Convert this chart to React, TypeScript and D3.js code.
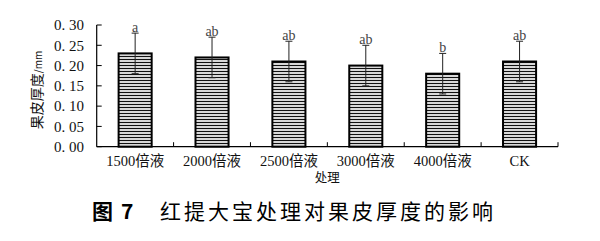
import React from "react";
import * as d3 from "d3";

const categories = ["1500倍液", "2000倍液", "2500倍液", "3000倍液", "4000倍液", "CK"];
const means = [0.23, 0.22, 0.21, 0.2, 0.18, 0.21];
const errors = [0.05, 0.05, 0.05, 0.05, 0.05, 0.05];
const letters = ["a", "ab", "ab", "ab", "b", "ab"];
const yTicks = [0, 0.05, 0.1, 0.15, 0.2, 0.25, 0.3];
const yLabel = "果皮厚度";
const yUnit = "/mm";
const xLabel = "处理";
const figWord = "图";
const figNum = "7";
const title = "红提大宝处理对果皮厚度的影响";

const serif = "'Liberation Serif', 'Noto Sans CJK SC', serif";
const cjk = "'Noto Sans CJK SC', sans-serif";

export default function App() {
  const left = 96.7;
  const right = 558;
  const bottom = 146.7;
  const top = 25;
  const x = d3
    .scaleBand<string>()
    .domain(categories)
    .range([left, right])
    .paddingInner(0.57)
    .paddingOuter(0.285);
  const y = d3.scaleLinear().domain([0, 0.3]).range([bottom, top]);
  const step = x.step();
  const fmt = (v: number) => {
    const s = d3.format(".2f")(v);
    return s.replace(".", ". ");
  };
  return (
    <svg
      width={600}
      height={241}
      style={{ position: "absolute", left: 0, top: 0, background: "#fff" }}
    >
      <defs>
        <pattern id="stripes" width={4} height={3} patternUnits="userSpaceOnUse">
          <rect width={4} height={3} fill="#d8d8d8" />
          <rect y={2} width={4} height={1.1} fill="#111" />
        </pattern>
      </defs>
      <rect width={600} height={241} fill="#fff" />
      {/* bars */}
      {categories.map((c, i) => (
        <rect
          key={c}
          x={x(c)!}
          y={y(means[i])}
          width={x.bandwidth()}
          height={bottom - y(means[i])}
          fill="url(#stripes)"
          stroke="#000"
          strokeWidth={2}
        />
      ))}
      {/* error bars */}
      {categories.map((c, i) => {
        const cx = x(c)! + x.bandwidth() / 2;
        const yt = y(means[i] + errors[i]);
        const yb = y(means[i] - errors[i]);
        return (
          <g key={"e" + c} stroke="#222" strokeWidth={1}>
            <line x1={cx} x2={cx} y1={yt} y2={yb} />
            <line x1={cx - 3.5} x2={cx + 3.5} y1={yt} y2={yt} />
            <line x1={cx - 3.5} x2={cx + 3.5} y1={yb} y2={yb} />
          </g>
        );
      })}
      {/* letters */}
      {categories.map((c, i) => (
        <text
          key={"l" + c}
          x={x(c)! + x.bandwidth() / 2}
          y={y(means[i] + errors[i]) - 1.5}
          textAnchor="middle"
          fontFamily={serif}
          fontSize={14}
          fill="#444"
        >
          {letters[i]}
        </text>
      ))}
      {/* y axis */}
      <line x1={left} x2={left} y1={top} y2={bottom} stroke="#000" strokeWidth={1.2} />
      {yTicks.map((t) => (
        <g key={t}>
          <line x1={left} x2={left + 5} y1={y(t)} y2={y(t)} stroke="#000" strokeWidth={1} />
          <text
            x={84}
            y={y(t)}
            dy="0.35em"
            textAnchor="end"
            fontFamily={serif}
            fontSize={15}
            fill="#111"
          >
            {fmt(t)}
          </text>
        </g>
      ))}
      {/* x axis */}
      <line x1={left} x2={right} y1={bottom} y2={bottom} stroke="#000" strokeWidth={1.2} />
      {categories.map((c, i) => (
        <line
          key={"t" + c}
          x1={left + step * (i + 1)}
          x2={left + step * (i + 1)}
          y1={bottom}
          y2={bottom - 4.5}
          stroke="#000"
          strokeWidth={1}
        />
      ))}
      {categories.map((c) => (
        <text
          key={"c" + c}
          x={x(c)! + x.bandwidth() / 2}
          y={166}
          textAnchor="middle"
          fontFamily={serif}
          fontSize={14.5}
          fill="#111"
        >
          {c}
        </text>
      ))}
      <text
        x={(left + right) / 2}
        y={182}
        textAnchor="middle"
        fontFamily={cjk}
        fontSize={12.5}
        fill="#111"
      >
        {xLabel}
      </text>
      {/* y label */}
      <text
        transform={`translate(42, 90) rotate(-90)`}
        textAnchor="middle"
        fontFamily={cjk}
        fontSize={14}
        fill="#111"
      >
        {yLabel}
        <tspan fontSize={10}>{yUnit}</tspan>
      </text>
      {/* title */}
      <text x={92} y={219} fontFamily={cjk} fontSize={21} fontWeight="bold" fill="#000">
        {figWord}
      </text>
      <text x={121} y={219} fontFamily={cjk} fontSize={21} fontWeight="bold" fill="#000">
        {figNum}
      </text>
      <text
        x={160}
        y={219}
        fontFamily={cjk}
        fontSize={21}
        letterSpacing={3}
        fill="#000"
      >
        {title}
      </text>
    </svg>
  );
}
